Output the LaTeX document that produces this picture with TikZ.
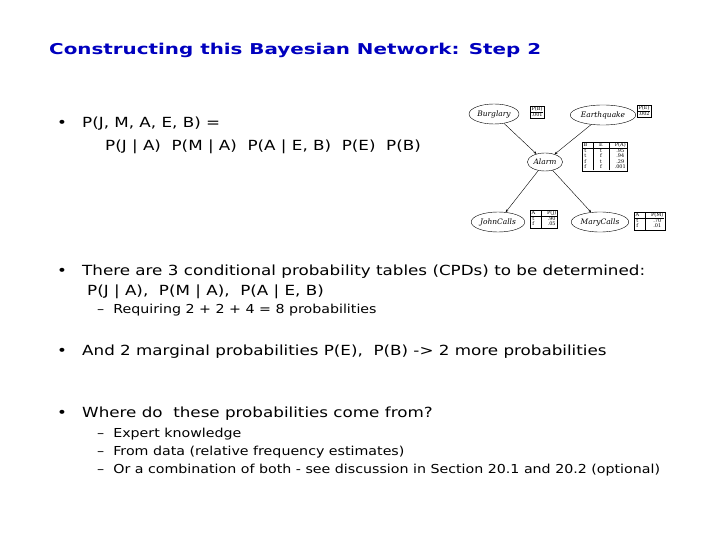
\documentclass[tikz,border=0pt]{standalone}
\usepackage{fontspec}
\setmainfont{DejaVu Sans}
\newfontfamily\bodyf{DejaVu Sans}[FakeStretch=1.2]
\newfontfamily\subf{DejaVu Sans}[FakeStretch=1.15]
\newfontfamily\titf{DejaVu Sans}[FakeStretch=1.33]
\newfontfamily\grf{DejaVu Serif}
\usetikzlibrary{shapes.geometric,arrows.meta}
\definecolor{ttl}{RGB}{0,0,190}
\tikzset{
 txt/.style={anchor=base west,inner sep=0pt,font=\bodyf\fontsize{14}{16}\selectfont},
 sub/.style={anchor=base west,inner sep=0pt,font=\subf\fontsize{12.4}{14}\selectfont},
 ell/.style={ellipse,draw,thin,inner sep=1pt,font=\grf\fontsize{7.5}{8}\itshape\selectfont},
 tab/.style={draw,thin,inner sep=0.5pt,font=\grf\fontsize{5}{5.5}\selectfont},
 edge/.style={-{Stealth[length=3pt]},thin}
}
\begin{document}
\begin{tikzpicture}[x=1bp,y=-1bp]
\useasboundingbox (0,0) rectangle (720,540);
\node[anchor=base west,inner sep=0pt,text=ttl,font=\titf\fontsize{15}{17}\bfseries\selectfont] (title) at (49,55) {Constructing this Bayesian Network: Step 2};
\node[txt] (b1) at (57,128) {•};
\node[txt] (l1) at (82,128) {P(J, M, A, E, B) =};
\node[txt] (l2) at (105,151) {P(J | A)\ \ P(M | A)\ \ P(A | E, B)\ \ P(E)\ \ P(B)};
\node[txt] (b2) at (57,276) {•};
\node[txt] (l3) at (82,276) {There are 3 conditional probability tables (CPDs) to be determined:};
\node[txt] (l4) at (87,295) {P(J | A),\ \ P(M | A),\ \ P(A | E, B)};
\node[sub] (s1) at (97,313) {–\ \ Requiring 2 + 2 + 4 = 8 probabilities};
\node[txt] (b3) at (57,355) {•};
\node[txt] (l5) at (82,355) {And 2 marginal probabilities P(E),\ \ P(B) -> 2 more probabilities};
\node[txt] (b4) at (57,417) {•};
\node[txt] (l6) at (82,417) {Where do\ \ these probabilities come from?};
\node[sub] (s2) at (97,437) {–\ \ Expert knowledge};
\node[sub] (s3) at (97,455) {–\ \ From data (relative frequency estimates)};
\node[sub] (s4) at (97,473) {–\ \ Or a combination of both - see discussion in Section 20.1 and 20.2 (optional)};
% network
\node[ell,minimum width=46bp,minimum height=20bp] (bur) at (494,114) {Burglary};
\node[ell,minimum width=52bp,minimum height=20bp] (ear) at (603,115) {Earthquake};
\node[ell,minimum width=34bp,minimum height=18bp] (ala) at (545,162) {Alarm};
\node[ell,minimum width=48bp,minimum height=20bp] (joh) at (498,222) {JohnCalls};
\node[ell,minimum width=48bp,minimum height=20bp] (mar) at (600,222) {MaryCalls};
\draw[edge] (bur) -- (ala);
\draw[edge] (ear) -- (ala);
\draw[edge] (ala) -- (joh);
\draw[edge] (ala) -- (mar);
\node[tab,anchor=north west] (tb) at (530,106) {\begin{tabular}{@{\,}c@{\,}}P(B)\\\hline .001\end{tabular}};
\node[tab,anchor=north west] (te) at (637,105) {\begin{tabular}{@{\,}c@{\,}}P(E)\\\hline .002\end{tabular}};
\node[tab,anchor=north west] (ta) at (582,142) {\begin{tabular}{@{\,}c|c|c@{\,}}B & E & P(A)\\\hline t & t & .95\\ t & f & .94\\ f & t & .29\\ f & f & .001\end{tabular}};
\node[tab,anchor=north west] (tj) at (530,210) {\begin{tabular}{@{\,}c|c@{\,}}A & P(J)\\\hline t & .90\\ f & .05\end{tabular}};
\node[tab,anchor=north west] (tm) at (634,212) {\begin{tabular}{@{\,}c|c@{\,}}A & P(M)\\\hline t & .70\\ f & .01\end{tabular}};
\end{tikzpicture}
\end{document}
